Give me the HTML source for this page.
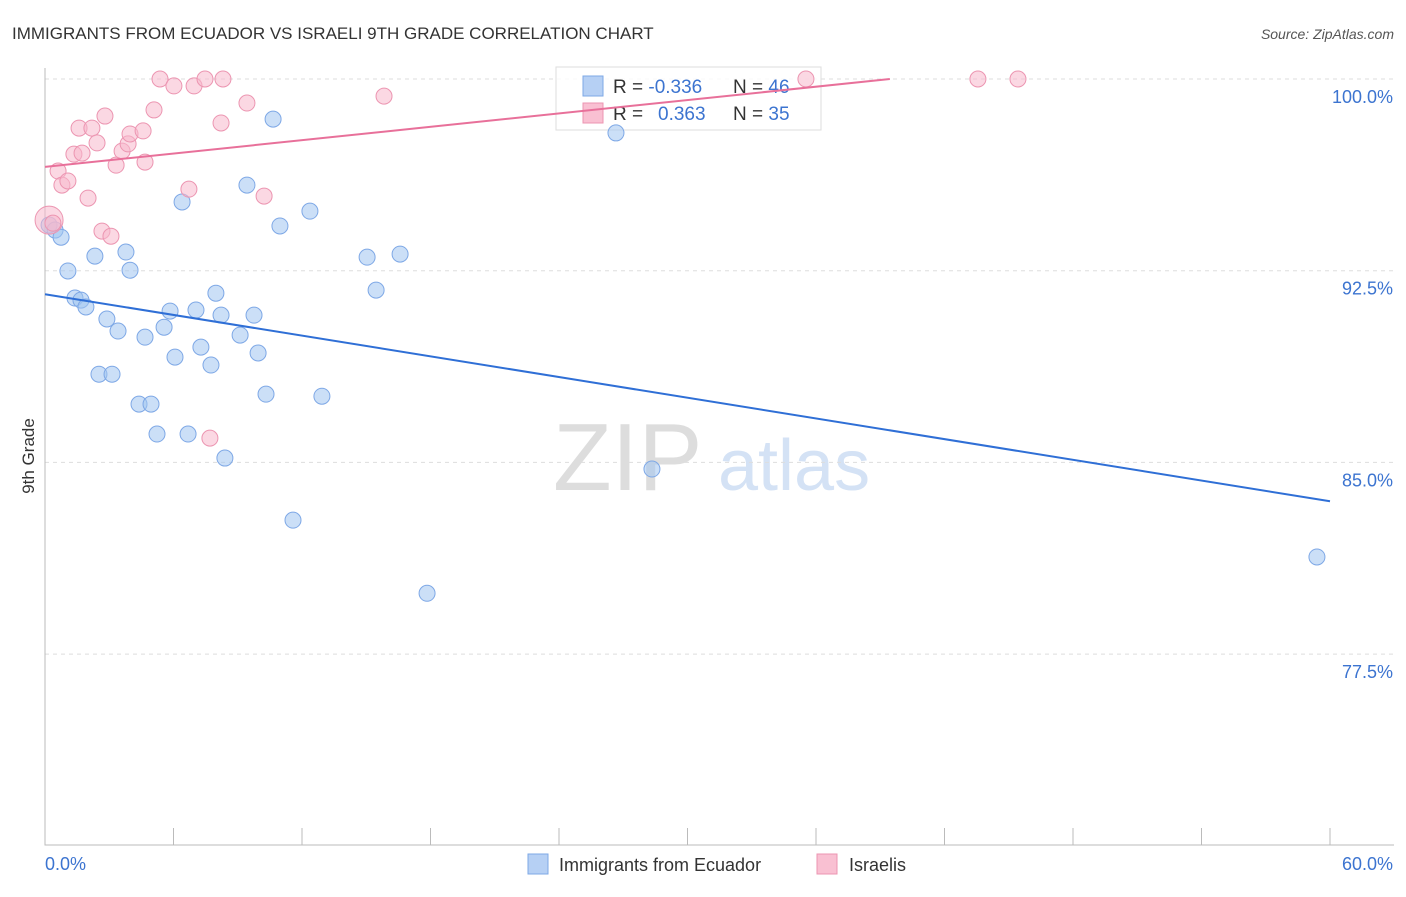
<!DOCTYPE html>
<html><head><meta charset="utf-8"><style>
body{margin:0;background:#fff;font-family:"Liberation Sans",sans-serif;}
svg text{font-family:"Liberation Sans",sans-serif;}
</style></head><body>
<svg id="chart" width="1406" height="892" viewBox="0 0 1406 892">
<text x="12" y="39" font-size="17" fill="#333">IMMIGRANTS FROM ECUADOR VS ISRAELI 9TH GRADE CORRELATION CHART</text>
<text x="1394" y="39" font-size="14" fill="#555" font-style="italic" text-anchor="end">Source: ZipAtlas.com</text>
<g>
<text x="553" y="490" font-size="96" fill="#ddd" font-family="Liberation Serif,serif">ZIP</text>
<text x="718" y="490" font-size="72" fill="#d4e2f5">atlas</text>
</g>
<g id="grid"></g>
<g id="axes"></g>
<g>
<rect x="556" y="67" width="265" height="63" fill="#fff" fill-opacity="0.85" stroke="#ddd"/>
<rect x="583" y="76" width="20" height="20" fill="#b6d0f4" stroke="#7ea8e6"/>
<rect x="583" y="103" width="20" height="20" fill="#f9c0d2" stroke="#ec95b1"/>
<text x="613" y="93" font-size="19" fill="#333">R = <tspan fill="#3c74d0">-0.336</tspan></text>
<text x="733" y="93" font-size="19" fill="#333">N = <tspan fill="#3c74d0">46</tspan></text>
<text x="613" y="120" font-size="19" fill="#333">R = <tspan x="658" fill="#3c74d0">0.363</tspan></text>
<text x="733" y="120" font-size="19" fill="#333">N = <tspan fill="#3c74d0">35</tspan></text>
</g>
<g id="marks"></g>
<text transform="translate(34,456) rotate(-90)" font-size="17" fill="#333" text-anchor="middle">9th Grade</text>
<g>
<rect x="528" y="854" width="20" height="20" fill="#b6d0f4" stroke="#7ea8e6"/>
<text x="559" y="871" font-size="18" fill="#333">Immigrants from Ecuador</text>
<rect x="817" y="854" width="20" height="20" fill="#f9c0d2" stroke="#ec95b1"/>
<text x="849" y="871" font-size="18" fill="#333">Israelis</text>
</g>
</svg>
<script>
const yTicks=[100,92.5,85,77.5];
const yTickLabels=["100.0%","92.5%","85.0%","77.5%"];
const xTickLabels=["0.0%","60.0%"];
const blueX=[0.19,0.47,0.75,1.07,1.40,1.68,1.91,2.33,2.52,2.89,3.13,3.41,3.78,3.97,4.39,4.67,4.95,5.23,5.56,5.84,6.07,6.40,6.68,7.05,7.28,7.75,7.98,8.22,8.40,9.11,9.43,9.76,9.95,10.32,10.65,10.97,11.58,12.37,12.93,15.04,15.46,16.58,17.84,26.66,28.34,59.39];
const blueY=[94.29,94.09,93.81,92.49,91.43,91.35,91.08,93.07,88.45,90.61,88.45,90.14,93.23,92.52,87.28,89.90,87.28,86.11,90.29,90.92,89.12,95.19,86.11,90.96,89.51,88.81,91.62,90.76,85.17,89.98,95.85,90.76,89.28,87.67,98.43,94.25,82.74,94.83,87.59,93.03,91.74,93.15,79.88,97.89,84.74,81.30];
const pinkX=[0.19,0.37,0.61,0.79,1.07,1.35,1.59,1.73,2.01,2.19,2.43,2.66,2.80,3.08,3.32,3.60,3.88,3.97,4.58,4.67,5.09,5.37,6.02,6.72,6.96,7.47,7.70,8.22,8.31,9.43,10.23,15.83,35.53,43.56,45.43];
const pinkY=[94.48,94.36,96.40,95.85,96.01,97.06,98.08,97.10,95.34,98.08,97.50,94.05,98.55,93.85,96.63,97.18,97.46,97.85,97.97,96.75,98.79,100,99.73,95.69,99.73,100,85.95,98.28,100,99.06,95.42,99.33,100,100,100];
const blueTrend=[91.58,83.48];
const pinkTrend=[96.56,0.0872];
const NS="http://www.w3.org/2000/svg";
const X=v=>45+v/60*1285;
const Y=v=>79+(100-v)/7.5*191.7;
function mk(t,a,p){const e=document.createElementNS(NS,t);for(const k in a)e.setAttribute(k,a[k]);p.appendChild(e);return e;}
const grid=document.getElementById('grid'),axes=document.getElementById('axes'),marks=document.getElementById('marks');
yTicks.forEach((v,i)=>{
 const l=mk('line',{x1:45,x2:1394,y1:Y(v),y2:Y(v),stroke:'#ddd','stroke-dasharray':'4,4'},grid);
 
 
 const t=mk('text',{x:1393,y:Y(v)+24,'font-size':18,fill:'#3c74d0','text-anchor':'end'},axes);
 t.textContent=yTickLabels[i];
 
 
});
const ax=mk('path',{d:'M45,68V845H1394',stroke:'#bbb',fill:'none'},axes);


for(let i=1;i<=10;i++){const tk=mk('line',{x1:X(i*6),x2:X(i*6),y1:828,y2:845,stroke:'#bbb'},axes);
 
 }
[[45,'start'],[1393,'end']].forEach((p,i)=>{const t=mk('text',{x:p[0],y:870,'font-size':18,fill:'#3c74d0','text-anchor':p[1]},axes);t.textContent=xTickLabels[i];
 
 });
blueX.forEach((x,i)=>{const c=mk('circle',{cx:X(x),cy:Y(blueY[i]),r:8,fill:'rgba(160,196,240,0.55)',stroke:'#7ea8e6','stroke-width':1},marks);
 
 });
pinkX.forEach((x,i)=>{const c=mk('circle',{cx:X(x),cy:Y(pinkY[i]),r:i==0?14:8,fill:'rgba(247,184,204,0.55)',stroke:'#ec95b1','stroke-width':1},marks);
 
 });
const bl=mk('line',{x1:X(0),y1:Y(blueTrend[0]),x2:X(60),y2:Y(blueTrend[1]),stroke:'#2f6fd6','stroke-width':2},marks);


const xEnd=(100-pinkTrend[0])/pinkTrend[1];
const pl=mk('line',{x1:X(0),y1:Y(pinkTrend[0]),x2:X(xEnd),y2:Y(100),stroke:'#e8709a','stroke-width':2},marks);


</script>
</body></html>
